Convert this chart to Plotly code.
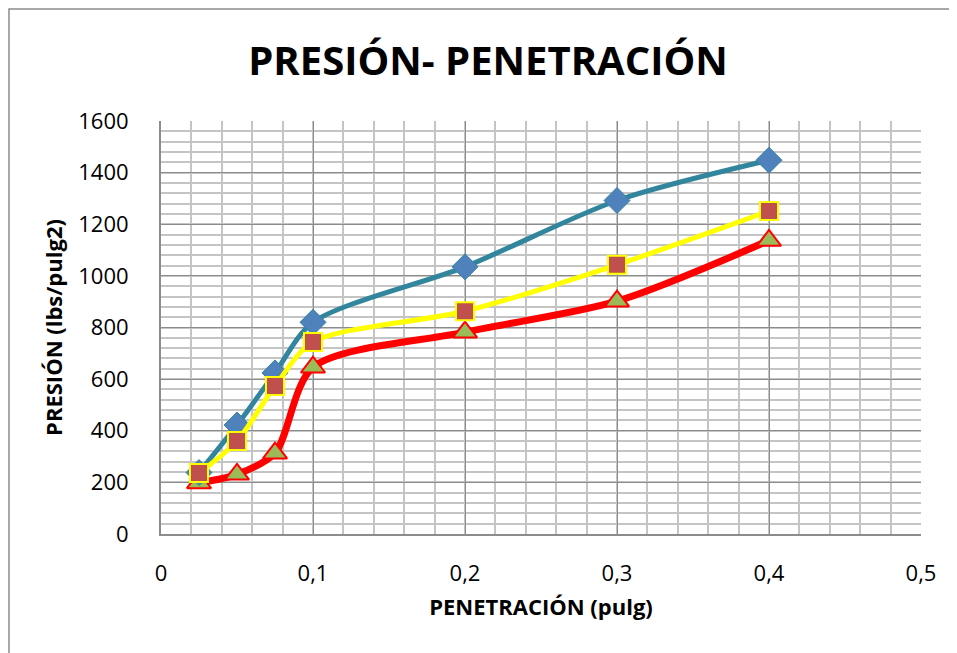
import plotly.graph_objects as go

penetracion = [0.025, 0.05, 0.075, 0.1, 0.2, 0.3, 0.4]
serie_azul = [238, 422, 624, 820, 1035, 1292, 1448]
serie_amarilla = [236, 360, 573, 744, 863, 1043, 1251]
serie_roja = [198, 231, 313, 646, 782, 902, 1137]

x_ticks = [0, 0.1, 0.2, 0.3, 0.4, 0.5]
x_labels = ["0", "0,1", "0,2", "0,3", "0,4", "0,5"]
y_ticks = [0, 200, 400, 600, 800, 1000, 1200, 1400, 1600]

fig = go.Figure()
fig.add_trace(go.Scatter(
    x=penetracion, y=serie_roja, mode="lines+markers",
    line=dict(color="#FF0000", width=7, shape="spline", smoothing=0.8),
    marker=dict(symbol="triangle-up", size=21, color="#9BBB59",
                line=dict(color="#FF0000", width=2)),
))
fig.add_trace(go.Scatter(
    x=penetracion, y=serie_azul, mode="lines+markers",
    line=dict(color="#31859C", width=5, shape="spline", smoothing=0.8),
    marker=dict(symbol="diamond", size=20, color="#4F81BD",
                line=dict(color="#31859C", width=1)),
))
fig.add_trace(go.Scatter(
    x=penetracion, y=serie_amarilla, mode="lines+markers",
    line=dict(color="#FFFF00", width=5, shape="spline", smoothing=0.8),
    marker=dict(symbol="square", size=18, color="#C0504D",
                line=dict(color="#FFFF00", width=2)),
))

OFF = 8  # page offset of the figure
W, H = 949, 645
L, R, T, B = 161 - OFF, 36, 121 - OFF, 119
pw, ph = W - L - R, H - T - B

def px_x(p):
    return (p - OFF - L) / pw

def px_y(p):
    return (H + OFF - B - p) / ph

fig.update_layout(
    width=W, height=H,
    margin=dict(l=L, r=R, t=T, b=B),
    paper_bgcolor="white", plot_bgcolor="white",
    showlegend=False,
    font=dict(family="Open Sans, Liberation Sans, sans-serif", color="#000000"),
    title=dict(text="<b>PRESIÓN- PENETRACIÓN</b>",
               x=(488 - OFF) / W, xanchor="center",
               y=1 - (61 - OFF) / H, yanchor="middle",
               font=dict(size=40, family="Open Sans, sans-serif")),
    xaxis=dict(
        range=[0, 0.5], tickvals=x_ticks, ticktext=x_labels,
        showgrid=True, gridcolor="#8C8C8C", gridwidth=1,
        minor=dict(dtick=0.02, showgrid=True, gridcolor="#C4C4C4", gridwidth=2),
        showline=True, linecolor="#8C8C8C", linewidth=2,
        zeroline=False, ticks="", tickfont=dict(size=22),
        ticklabelstandoff=19,
        title=dict(text="<b>PENETRACIÓN (pulg)</b>", font=dict(size=22), standoff=13),
    ),
    yaxis=dict(
        range=[0, 1600], tickvals=y_ticks,
        showgrid=True, gridcolor="#8C8C8C", gridwidth=1,
        minor=dict(dtick=40, showgrid=True, gridcolor="#C4C4C4", gridwidth=2),
        showline=True, linecolor="#8C8C8C", linewidth=2,
        zeroline=False, ticks="", tickfont=dict(size=22),
        ticklabelstandoff=26,
        title=dict(text="<b>PRESIÓN (lbs/pulg2)</b>", font=dict(size=22), standoff=10),
    ),
    shapes=[dict(type="rect", xref="paper", yref="paper",
                 x0=px_x(9), x1=px_x(975), y0=px_y(670), y1=px_y(9),
                 line=dict(color="#8C8C8C", width=1.5), layer="below")],
)

fig.write_html("out.html")
